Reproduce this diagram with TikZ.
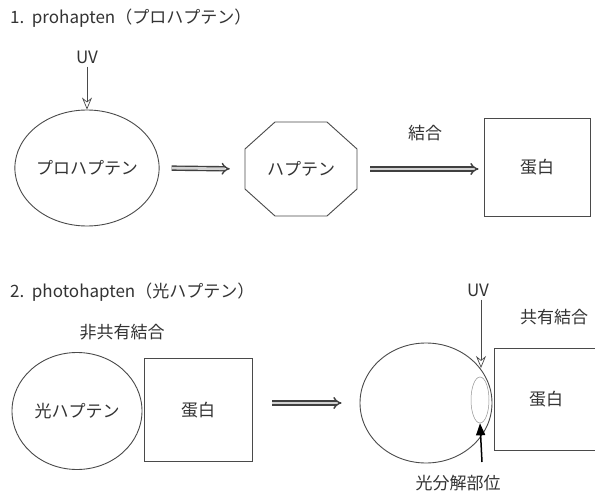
\documentclass[tikz,border=0pt]{standalone}
\usepackage{fontspec}
\setmainfont{Noto Sans CJK JP}
\usetikzlibrary{arrows.meta,shapes.geometric}
\definecolor{ink}{HTML}{333333}
\definecolor{linec}{HTML}{4A4A4A}
\begin{document}
\begin{tikzpicture}[x=1pt,y=-1pt,
  font=\fontsize{17}{20}\selectfont, text=ink,
  shapeline/.style={draw=linec, line width=0.9pt, inner sep=0pt},
  bigarrow/.style={draw=gray!50!black, double=gray!35, double distance=2.6pt, line width=1.4pt, -{Implies[scale=1.8]}},
  uvarrow/.style={draw=linec, line width=0.7pt, -{Stealth[open,length=12pt,width=10pt,inset=4pt]}},
  lbl/.style={inner sep=0pt}]
\clip (0,0) rectangle (595,495);
\fill[white] (0,0) rectangle (595,495);

% ---- part 1 ----
\node[lbl, anchor=west] (t1) at (10,18) {1.\ \ prohapten（プロハプテン）};
\node[lbl] (uv1) at (87,57) {UV};
\node[shapeline, ellipse, minimum width=130, minimum height=116] (pro) at (87,168) {プロハプテン};
\draw[uvarrow, shorten <=3pt] (uv1.south) -- (pro.north);

\node[lbl, minimum width=112, minimum height=94] (hap) at (301,169) {ハプテン};
\draw[shapeline, shift={(hap.center)}] (-26,-47) -- (26,-47) -- (56,-20) -- (56,20) -- (26,47) -- (-26,47) -- (-56,20) -- (-56,-20) -- cycle;
\draw[bigarrow, shorten <=12pt, shorten >=15pt] (pro.east) -- (hap.west);

\node[shapeline, minimum width=106, minimum height=98] (prot1) at (537,167) {蛋白};
\draw[bigarrow, shorten <=13pt, shorten >=5pt] (hap.east) -- (prot1.west |- hap.east);
\node[lbl] (bind) at (425,133) {結合};

% ---- part 2 ----
\node[lbl, anchor=west] (t2) at (10,292) {2.\ \ photohapten（光ハプテン）};
\node[lbl] (nc) at (122,332) {非共有結合};
\node[shapeline, ellipse, minimum width=130, minimum height=117] (ph) at (77,411) {光ハプテン};
\node[shapeline, minimum width=108, minimum height=103] (prot2) at (198,410) {蛋白};

\node[shapeline, ellipse, minimum width=132, minimum height=120] (big) at (426,403) {};
\node[shapeline, minimum width=104, minimum height=102] (prot3) at (546,399) {蛋白};
\draw[bigarrow, shorten <=20pt, shorten >=18pt] (prot2.east |- big.west) -- (big.west);

\node[lbl] (uv2) at (478,290) {UV};
\coordinate (uvtip) at (481,368);
\draw[uvarrow, shorten <=3pt] (uv2.south -| uvtip) -- (uvtip);
\node[lbl, anchor=west] (cov) at (520,317) {共有結合};

\node[draw=linec!60, line width=0.5pt, ellipse, minimum width=18, minimum height=46, inner sep=0pt] (site) at (480,400) {};
\coordinate (sitebase) at (482,462);
\draw[black, line width=1.5pt, -{Triangle[length=12pt,width=9pt]}] (sitebase) -- (site.south);
\node[lbl] (photo) at (458,483) {光分解部位};
\end{tikzpicture}
\end{document}
